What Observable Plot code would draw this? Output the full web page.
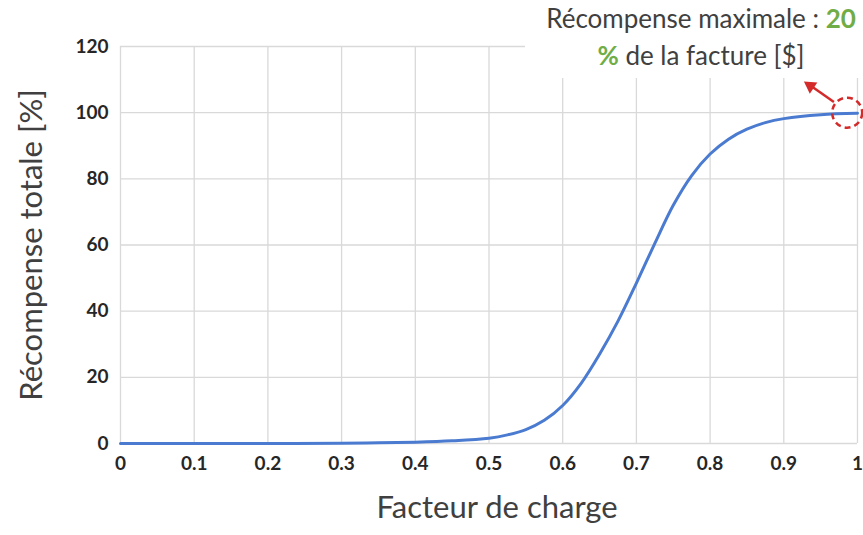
<!DOCTYPE html>
<html>
<head>
<meta charset="utf-8">
<script src="https://cdn.jsdelivr.net/npm/d3@7"></script>
<script src="https://cdn.jsdelivr.net/npm/@observablehq/plot@0.6"></script>
<style>
  html, body { margin: 0; padding: 0; background: #fff; }
  #wrap { position: relative; width: 863px; height: 535px; }
  #note {
    position: absolute; left: 525px; top: 0; width: 338px; height: 78px;
    background: #fff; font-family: Lato, "Open Sans", sans-serif; font-size: 26px;
    color: #404040; text-align: center; line-height: 37px; padding-top: 0px;
    box-sizing: border-box; padding-left: 14px; white-space: nowrap;
  }
  #note b { color: #70ad47; }
</style>
</head>
<body>
<div id="wrap">
  <div id="chart"></div>
  <div id="note">Récompense maximale : <b>20</b><br><b>%</b> de la facture [$]</div>
</div>
<script>
// Data
const loadFactor = [0, 0.1, 0.2, 0.3, 0.35, 0.4, 0.45, 0.5, 0.525, 0.55, 0.575, 0.6, 0.625, 0.65, 0.675, 0.7, 0.725, 0.75, 0.775, 0.8, 0.825, 0.85, 0.875, 0.9, 0.95, 1.0];
const reward     = [0, 0, 0, 0.1, 0.2, 0.4, 0.8, 1.6, 2.6, 4.2, 7, 11.5, 18.2, 27, 37, 48.5, 60.5, 72, 81, 87.5, 92, 95, 97, 98.2, 99.4, 99.8];
const xTicks = [0, 0.1, 0.2, 0.3, 0.4, 0.5, 0.6, 0.7, 0.8, 0.9, 1];
const yTicks = [0, 20, 40, 60, 80, 100, 120];
const xTitle = "Facteur de charge";
const yTitle = "Récompense totale [%]";
// Annotation: highlighted maximum point and arrow
const highlight = [{x: 0.986, y: 100}];
const arrowSeg = [{x1: 0.968, y1: 103.2, x2: 0.938, y2: 107.9}];
const arrowHead = [{x: 0.936, y: 108.1}];

const data = loadFactor.map((x, i) => ({x, y: reward[i]}));

const chart = Plot.plot({
  width: 863,
  height: 535,
  marginLeft: 120,
  marginRight: 6,
  marginTop: 46,
  marginBottom: 92,
  style: {fontFamily: "Lato, 'Open Sans', sans-serif", background: "#fff"},
  x: {domain: [0, 1]},
  y: {domain: [0, 120]},
  marks: [
    Plot.gridX(xTicks, {stroke: "#d9d9d9", strokeOpacity: 1, strokeWidth: 1.3}),
    Plot.gridY(yTicks, {stroke: "#d9d9d9", strokeOpacity: 1, strokeWidth: 1.3}),
    Plot.axisX(xTicks, {tickSize: 0, tickPadding: 13, fontSize: 19, fontWeight: "bold", fill: "#262626", label: null, tickFormat: d => String(d)}),
    Plot.axisY(yTicks, {tickSize: 0, tickPadding: 12, fontSize: 19, fontWeight: "bold", fill: "#262626", label: null}),
    Plot.text([yTitle], {frameAnchor: "left", textAnchor: "middle", rotate: -90, dx: -88, fontSize: 31, fill: "#404040"}),
    Plot.text([xTitle], {frameAnchor: "bottom", textAnchor: "middle", dy: 74, dx: 8, fontSize: 31, fill: "#404040"}),
    Plot.line(data, {x: "x", y: "y", stroke: "#4a7bd0", strokeWidth: 3, curve: "catmull-rom"}),
    Plot.dot(highlight, {x: "x", y: "y", r: 15, stroke: "#d42a2a", strokeWidth: 2.5, strokeDasharray: "6,4", fill: "none"}),
    Plot.link(arrowSeg, {x1: "x1", y1: "y1", x2: "x2", y2: "y2", stroke: "#d42a2a", strokeWidth: 2.5}),
    Plot.dot(arrowHead, {x: "x", y: "y", symbol: "triangle", r: 5, rotate: -56, fill: "#d42a2a", stroke: "none"})
  ]
});
document.getElementById("chart").appendChild(chart);
</script>
</body>
</html>
